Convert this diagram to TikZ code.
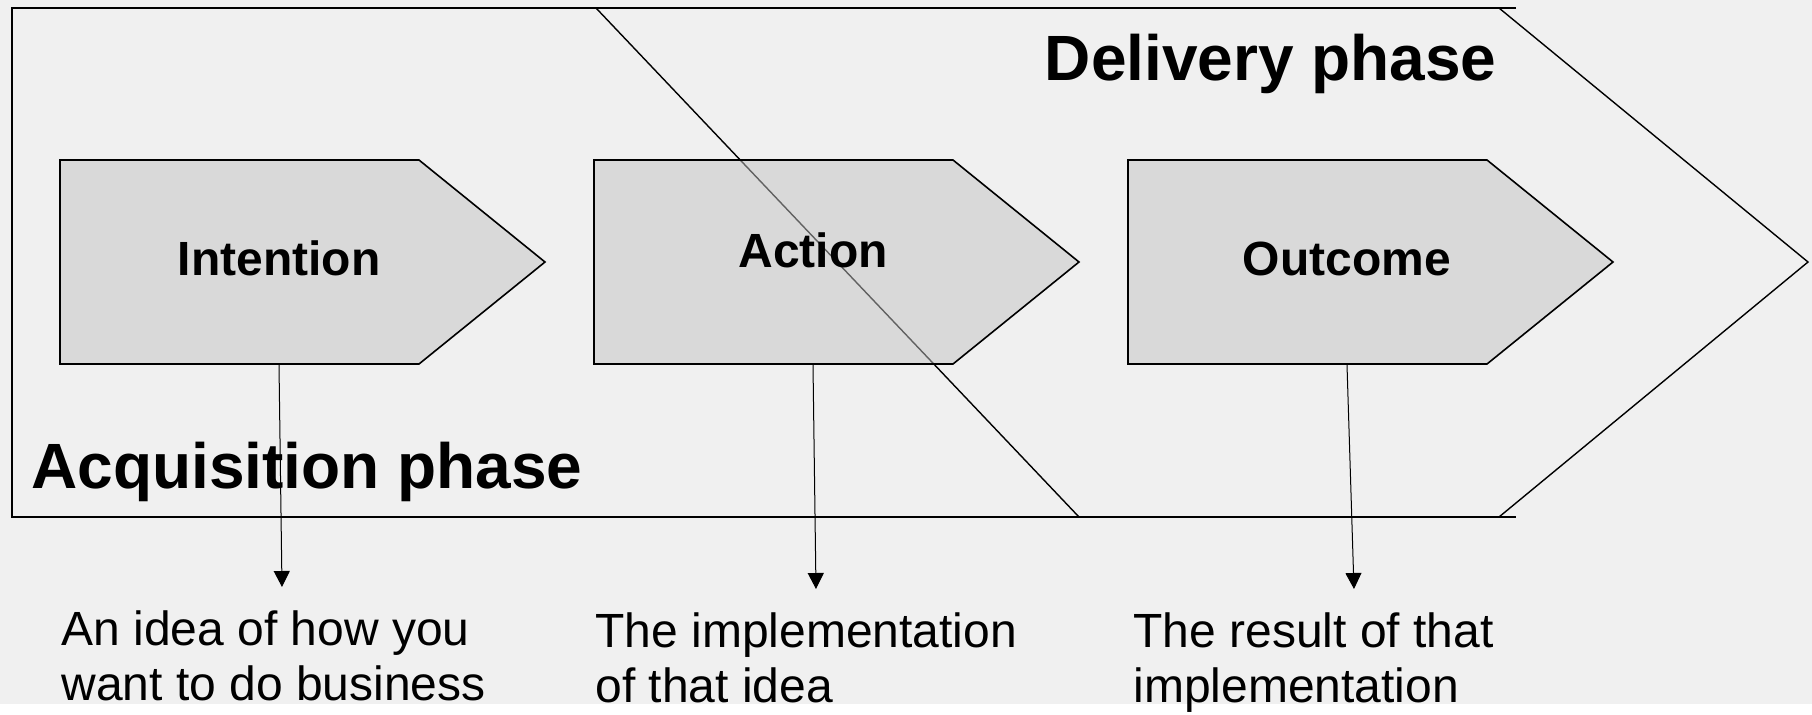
\documentclass[tikz,border=0pt]{standalone}
\usepackage{fontspec}
\setmainfont{Liberation Sans}
\usetikzlibrary{calc,positioning,arrows.meta,fit}
\definecolor{slidebg}{RGB}{240,240,240}
\definecolor{stagegray}{RGB}{195,195,195}
\tikzstyle{stagebox} = [draw, line width=0.8pt, fill=stagegray,
    fill opacity=0.5, draw opacity=1]
\tikzstyle{stagelabel} = [font=\fontsize{24}{28}\selectfont\bfseries,
    anchor=base, inner sep=0pt]
\tikzstyle{phaselabel} = [font=\fontsize{32}{38}\selectfont\bfseries, inner sep=0pt]
\tikzstyle{desc} = [font=\fontsize{24}{27.5}\selectfont, align=left,
    anchor=north west, inner sep=0pt, outer ysep=12pt]
\tikzstyle{outline} = [line width=0.9pt]
\makeatletter
\tikzset{
  fitting node/.style={
    inner sep=0pt,
    fill=none,
    draw=none,
    reset transform,
    fit={(\pgf@pathminx,\pgf@pathminy) (\pgf@pathmaxx,\pgf@pathmaxy)}
  },
  reset transform/.code={\pgftransformreset}
}
\makeatother

\begin{document}
\begin{tikzpicture}[x=0.5pt, y=-0.5pt, >={Triangle[width=8pt,length=8pt]},
    arrow/.style={->, line width=0.5pt}]
\useasboundingbox (0,0) rectangle (1812,714);
\fill[white] (0,0) rectangle (1812,714);
\fill[slidebg] (0,0) rectangle (1812,704);

% phase outlines
\draw[outline] (1516,8) -- (12,8) -- (12,517) -- (1516,517);
\draw[line width=0.7pt] (596,8) -- (1079,517);
\draw[line width=0.7pt] (1499,8) -- (1808,262) -- (1499,517);

\node (acquisition) [phaselabel, anchor=base west] at (31,488) {Acquisition phase};
\node (delivery) [phaselabel, anchor=base east] at (1497,80) {Delivery phase};

% the three stages
\draw[stagebox] (60,160) -- ++(359,0) -- ++(126,102) -- ++(-126,102) -- ++(-359,0) -- cycle
    node[fitting node] (intention) {};
\draw[stagebox] (594,160) -- ++(359,0) -- ++(126,102) -- ++(-126,102) -- ++(-359,0) -- cycle
    node[fitting node] (action) {};
\draw[stagebox] (1128,160) -- ++(359,0) -- ++(126,102) -- ++(-126,102) -- ++(-359,0) -- cycle
    node[fitting node] (outcome) {};

\node (intention_lbl) [stagelabel] at ($(intention.center)+(-23.5,13)$) {Intention};
\node (action_lbl) [stagelabel] at ($(action.center)+(-23.5,5)$) {Action};
\node (outcome_lbl) [stagelabel] at ($(outcome.center)+(-23.5,13)$) {Outcome};

% what each stage means
\node (intention_desc) [desc] at (61,587) {An idea of how you\\want to do business};
\node (action_desc) [desc] at (595,589) {The implementation\\of that idea};
\node (outcome_desc) [desc] at (1133,589) {The result of that\\implementation};

\draw[arrow] ($(intention.south)+(-23.5,0)$) -- ($(intention_desc.north west)+(221,0)$);
\draw[arrow] ($(action.south)+(-23.5,0)$) -- ($(action_desc.north west)+(221,0)$);
\draw[arrow] ($(outcome.south)+(-23.5,0)$) -- ($(outcome_desc.north west)+(221,0)$);
\end{tikzpicture}
\end{document}
